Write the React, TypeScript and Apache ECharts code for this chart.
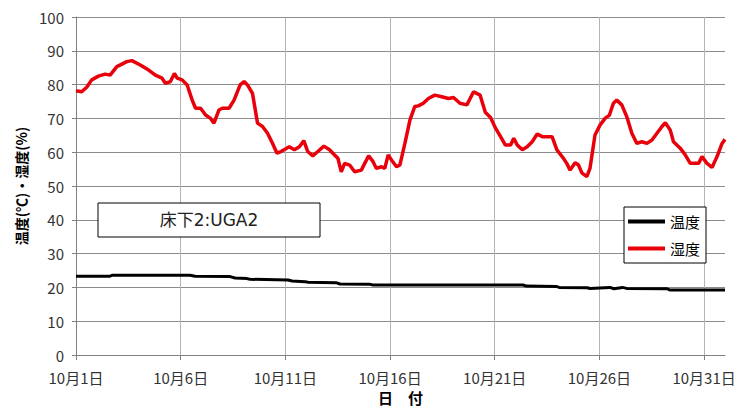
import React, { useEffect, useRef } from "react";
import * as echarts from "echarts";

// Days since 10月1日 00:00 (x) and readings (y)
const dayLabelValues = [0, 5, 10, 15, 20, 25, 30];
const seriesNames = ["温度", "湿度"];
const yAxisTitle = "温度(℃)・湿度(%)";
const xAxisTitle = "日　付";
const annotationText = "床下2:UGA2";

const humidityDays = [
  0.0, 0.27, 0.51, 0.75, 1.07, 1.39, 1.63, 1.95, 2.43, 2.67, 3.07, 3.47, 3.79, 4.11, 4.27, 4.51,
  4.7, 4.83, 5.07, 5.31, 5.55, 5.71, 5.95, 6.19, 6.43, 6.59, 6.83, 6.99, 7.31, 7.55, 7.84, 8.03,
  8.19, 8.43, 8.67, 8.91, 9.15, 9.39, 9.6, 9.79, 10.19, 10.43, 10.67, 10.88, 11.07, 11.31, 11.55,
  11.84, 12.11, 12.35, 12.51, 12.67, 12.83, 13.07, 13.31, 13.63, 13.79, 13.98, 14.19, 14.35, 14.59,
  14.75, 14.91, 15.07, 15.31, 15.47, 15.71, 15.95, 16.18, 16.35, 16.59, 16.83, 17.14, 17.47, 17.79,
  18.03, 18.34, 18.67, 18.99, 19.3, 19.55, 19.8, 20.04, 20.28, 20.51, 20.76, 20.91, 21.08, 21.32,
  21.55, 21.79, 22.03, 22.27, 22.5, 22.74, 22.97, 23.28, 23.44, 23.6, 23.84, 24.0, 24.17, 24.4,
  24.55, 24.79, 25.03, 25.27, 25.48, 25.67, 25.83, 26.07, 26.31, 26.55, 26.79, 27.03, 27.27, 27.51,
  27.75, 27.99, 28.15, 28.38, 28.54, 28.86, 29.1, 29.34, 29.58, 29.74, 29.9, 30.14, 30.38, 30.62,
  30.86, 31.0,
];
const humidityValues = [
  78.2, 77.9, 79.2, 81.4, 82.5, 83.1, 82.8, 85.3, 86.8, 87.1, 85.8, 84.3, 82.8, 81.9, 80.4, 80.9,
  83.3, 81.9, 81.4, 79.9, 75.4, 73.0, 73.0, 71.0, 70.0, 68.6, 72.5, 73.0, 73.0, 75.4, 79.9, 80.9,
  79.9, 77.4, 68.6, 67.6, 65.6, 62.6, 59.7, 60.2, 61.6, 60.7, 61.6, 63.4, 60.2, 58.9, 60.2,
  61.8, 60.7, 59.2, 58.2, 54.2, 56.7, 56.2, 54.2, 54.7, 56.7, 58.9, 57.2, 55.2, 55.7,
  55.2, 59.2, 57.7, 55.7, 56.2, 62.6, 69.5, 73.5, 73.7, 74.5, 75.9, 76.9, 76.4, 75.9,
  76.2, 74.5, 74.0, 77.9, 76.9, 71.8, 70.3, 67.1, 64.6, 62.1, 62.1, 64.1, 62.1, 60.7,
  61.6, 63.1, 65.4, 64.6, 64.6, 64.6, 60.7, 58.2, 56.7, 54.7, 56.9, 56.2, 53.8, 52.8,
  55.2, 65.1, 68.0, 70.0, 71.0, 74.5, 75.4, 74.0, 70.5, 65.6, 62.6, 63.1, 62.6, 63.6,
  65.6, 67.6, 68.7, 66.6, 63.1, 61.2, 59.2, 56.7, 56.7, 56.7, 58.7, 56.7, 55.5, 58.7,
  62.6, 63.8,
];

const tempDays = [
  0.0, 1.62, 1.72, 5.45, 5.69, 7.36, 7.6, 8.17, 8.31, 10.13, 10.32, 10.94, 11.08, 12.42, 12.61,
  14.05, 14.19, 21.36, 21.5, 22.93, 23.08, 24.41, 24.56, 25.5, 25.7, 26.1, 26.3, 28.24, 28.38, 31.0,
];
const tempValues = [
  23.3, 23.3, 23.6, 23.6, 23.3, 23.2, 22.8, 22.6, 22.4, 22.2, 21.9, 21.7, 21.5, 21.4, 21.0,
  20.9, 20.7, 20.7, 20.4, 20.3, 20.0, 19.9, 19.7, 20.0, 19.6, 20.0, 19.7, 19.6, 19.2, 19.2,
];

const FONT = '"Noto Sans CJK JP", "Noto Sans", sans-serif';
const WIDE_FONT = '"DejaVu Sans", "Noto Sans CJK JP", sans-serif';

export default function App() {
  const ref = useRef<HTMLDivElement>(null);
  useEffect(() => {
    if (!ref.current) return;
    const chart = echarts.init(ref.current, null, { renderer: "svg" });
    const tempData = tempDays.map((d, i) => [d, tempValues[i]]);
    const humData = humidityDays.map((d, i) => [d, humidityValues[i]]);
    chart.setOption({
      animation: false,
      backgroundColor: "#ffffff",
      textStyle: { fontFamily: FONT },
      grid: { left: 76, right: 10, top: 17, bottom: 52, containLabel: false, outerBoundsMode: "none" },
      xAxis: {
        type: "value",
        min: 0,
        max: 31,
        interval: 1,
        name: xAxisTitle,
        nameLocation: "middle",
        nameGap: 32,
        nameTextStyle: { fontFamily: FONT, fontSize: 15, fontWeight: "bold", color: "#000", lineHeight: 16 },
        axisLine: { show: true, lineStyle: { color: "#808080", width: 1 } },
        axisTick: { show: true, customValues: dayLabelValues, length: 5, lineStyle: { color: "#808080" } },
        axisLabel: {
          customValues: dayLabelValues,
          formatter: (v: number) => `10月${Math.round(v) + 1}日`,
          fontFamily: FONT,
          fontSize: 15,
          color: "#333",
          margin: 14,
          lineHeight: 16,
        },
        splitLine: { show: true, lineStyle: { color: "#b4b4b4", width: 1 } },
      },
      yAxis: {
        type: "value",
        min: 0,
        max: 100,
        interval: 10,
        name: yAxisTitle,
        nameLocation: "middle",
        nameGap: 48,
        nameRotate: 90,
        nameTextStyle: { fontFamily: FONT, fontSize: 14, fontWeight: "bold", color: "#000" },
        axisLine: { show: true, lineStyle: { color: "#808080", width: 1 } },
        axisTick: { show: true, length: 4, lineStyle: { color: "#808080" } },
        axisLabel: { fontFamily: FONT, fontSize: 15, color: "#333", margin: 12, lineHeight: 15 },
        splitLine: { show: true, lineStyle: { color: "#8c8c8c", width: 1 } },
      },
      legend: {
        orient: "vertical",
        left: 624,
        top: 207,
        padding: [7, 6, 7, 4],
        itemGap: 12,
        itemWidth: 37,
        itemHeight: 4,
        icon: "rect",
        borderColor: "#000",
        borderWidth: 1,
        borderRadius: 0,
        backgroundColor: "#fff",
        textStyle: { fontFamily: FONT, fontSize: 15, color: "#000" },
        data: seriesNames,
      },
      graphic: [
        {
          type: "rect",
          z: 20,
          shape: { x: 98, y: 203, width: 222, height: 34 },
          style: { fill: "#fff", stroke: "#000", lineWidth: 1 },
        },
        {
          type: "text",
          z: 21,
          x: 209,
          y: 220,
          style: {
            text: annotationText,
            fontFamily: WIDE_FONT,
            fontSize: 17,
            fill: "#222",
            align: "center",
            verticalAlign: "middle",
          },
        },
      ],
      series: [
        {
          name: seriesNames[0],
          type: "line",
          data: tempData,
          showSymbol: false,
          symbol: "none",
          color: "#000000",
          lineStyle: { color: "#000000", width: 3 },
          z: 3,
        },
        {
          name: seriesNames[1],
          type: "line",
          data: humData,
          showSymbol: false,
          symbol: "none",
          color: "#e8000b",
          lineStyle: { color: "#e8000b", width: 3.5 },
          z: 4,
        },
      ],
    });
    return () => chart.dispose();
  }, []);
  return <div ref={ref} style={{ width: 735, height: 407, position: "absolute", left: 0, top: 0 }} />;
}
